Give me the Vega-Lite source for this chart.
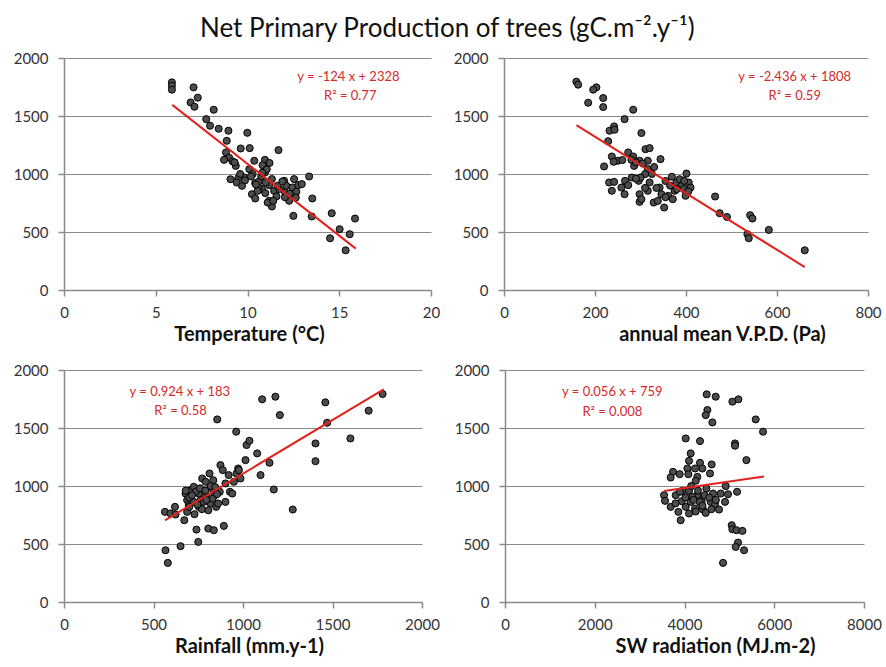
{
  "$schema": "https://vega.github.io/schema/vega-lite/v6.json",
  "background": "white",
  "padding": {"left": 13, "top": 16, "right": 0, "bottom": 5},
  "title": {"text": "Net Primary Production of trees (gC.m⁻².y⁻¹)", "font": "Lato", "fontSize": 26, "fontWeight": "normal", "color": "#111", "anchor": "middle", "offset": 9},
  "config": {
    "view": {"stroke": null},
    "axis": {"labelFont": "Lato", "labelFontSize": 15, "labelColor": "#333", "domainColor": "#8a8a8a", "tickColor": "#8a8a8a", "tickSize": 6, "domainWidth": 1.5, "tickWidth": 1.5, "titleFont": "Lato", "titleFontSize": 20, "titleFontWeight": "bold", "titleColor": "#111", "gridColor": "#8a8a8a", "gridWidth": 1.2, "labelPadding": 9, "format": "d", "labelFlush": false},
    "axisX": {"grid": false, "titlePadding": 4},
    "axisY": {"grid": true, "labelPadding": 10},
    "circle": {"size": 50, "color": "#4d4d4d", "stroke": "#000", "strokeWidth": 1, "opacity": 1},
    "line": {"color": "#e3211c", "strokeWidth": 2},
    "text": {"color": "#d42a2a", "font": "Lato", "fontSize": 13}
  },
  "datasets": {
    "p1": [
      {"x":5.88,"y":1790},{"x":5.88,"y":1761},{"x":5.88,"y":1727},{"x":7.06,"y":1747},{"x":7.29,"y":1658},{"x":6.9,"y":1617},{"x":7.11,"y":1580},{"x":8.16,"y":1554},{"x":7.75,"y":1473},{"x":7.96,"y":1416},{"x":8.43,"y":1390},{"x":8.96,"y":1373},{"x":9.99,"y":1355},{"x":8.87,"y":1286},{"x":11.69,"y":1206},{"x":9.63,"y":1220},{"x":10.12,"y":1223},{"x":8.83,"y":1186},{"x":9.0,"y":1140},{"x":8.72,"y":1122},{"x":9.19,"y":1108},{"x":9.36,"y":1070},{"x":10.37,"y":1114},{"x":10.95,"y":1122},{"x":11.0,"y":1056},{"x":10.82,"y":1076},{"x":10.1,"y":1042},{"x":10.28,"y":999},{"x":10.95,"y":1013},{"x":9.07,"y":955},{"x":9.5,"y":965},{"x":9.83,"y":970},{"x":9.41,"y":927},{"x":9.7,"y":898},{"x":10.19,"y":979},{"x":10.42,"y":921},{"x":10.6,"y":933},{"x":10.24,"y":826},{"x":10.42,"y":789},{"x":10.79,"y":870},{"x":10.97,"y":835},{"x":11.18,"y":904},{"x":11.33,"y":956},{"x":11.45,"y":855},{"x":11.18,"y":769},{"x":11.33,"y":720},{"x":11.58,"y":807},{"x":11.73,"y":870},{"x":12.0,"y":941},{"x":12.12,"y":898},{"x":12.05,"y":841},{"x":12.27,"y":769},{"x":12.54,"y":956},{"x":12.45,"y":884},{"x":12.77,"y":904},{"x":12.66,"y":846},{"x":12.96,"y":913},{"x":13.36,"y":979},{"x":12.5,"y":639},{"x":13.53,"y":789},{"x":13.5,"y":634},{"x":14.59,"y":662},{"x":14.5,"y":446},{"x":15.02,"y":524},{"x":15.57,"y":481},{"x":15.35,"y":342},{"x":15.86,"y":616},{"x":10.6,"y":883},{"x":11.1,"y":754},{"x":11.4,"y":768},{"x":11.64,"y":898},{"x":12.04,"y":800},{"x":12.63,"y":797},{"x":10.55,"y":855},{"x":10.75,"y":979},{"x":11.0,"y":927},{"x":9.86,"y":945},{"x":10.46,"y":910},{"x":9.6,"y":1000},{"x":11.2,"y":1095},{"x":11.05,"y":1040},{"x":9.3,"y":1100},{"x":11.9,"y":935},{"x":12.3,"y":830},{"x":10.8,"y":1010}
    ],
    "l1": [{"x":5.9,"y":1596},{"x":15.9,"y":357}],
    "p2": [
      {"x":159,"y":1796},{"x":163,"y":1770},{"x":203,"y":1747},{"x":196,"y":1727},{"x":185,"y":1614},{"x":218,"y":1655},{"x":218,"y":1577},{"x":284,"y":1554},{"x":265,"y":1473},{"x":302,"y":1353},{"x":232,"y":1373},{"x":242,"y":1410},{"x":243,"y":1381},{"x":229,"y":1283},{"x":311,"y":1214},{"x":320,"y":1223},{"x":273,"y":1186},{"x":284,"y":1151},{"x":237,"y":1151},{"x":250,"y":1114},{"x":241,"y":1105},{"x":280,"y":1122},{"x":298,"y":1114},{"x":316,"y":1114},{"x":344,"y":1128},{"x":220,"y":1065},{"x":286,"y":1070},{"x":316,"y":1042},{"x":310,"y":999},{"x":231,"y":927},{"x":242,"y":932},{"x":237,"y":855},{"x":258,"y":883},{"x":266,"y":941},{"x":273,"y":904},{"x":281,"y":970},{"x":265,"y":826},{"x":296,"y":941},{"x":300,"y":970},{"x":298,"y":826},{"x":298,"y":760},{"x":302,"y":783},{"x":316,"y":855},{"x":320,"y":927},{"x":329,"y":754},{"x":338,"y":768},{"x":342,"y":883},{"x":346,"y":826},{"x":352,"y":711},{"x":361,"y":812},{"x":369,"y":976},{"x":371,"y":783},{"x":375,"y":855},{"x":379,"y":927},{"x":390,"y":898},{"x":386,"y":955},{"x":401,"y":1004},{"x":399,"y":812},{"x":406,"y":927},{"x":410,"y":883},{"x":396,"y":941},{"x":464,"y":806},{"x":474,"y":662},{"x":490,"y":630},{"x":541,"y":645},{"x":546,"y":616},{"x":535,"y":481},{"x":538,"y":446},{"x":582,"y":518},{"x":661,"y":342},{"x":325,"y":1000},{"x":335,"y":880},{"x":355,"y":800},{"x":365,"y":900},{"x":310,"y":880},{"x":290,"y":960},{"x":330,"y":1060},{"x":395,"y":870},{"x":405,"y":850},{"x":380,"y":870},{"x":290,"y":1100},{"x":305,"y":1090},{"x":260,"y":1120},{"x":355,"y":940}
    ],
    "l2": [{"x":159,"y":1421},{"x":661,"y":198}],
    "p3": [
      {"x":564,"y":777},{"x":567,"y":446},{"x":580,"y":337},{"x":595,"y":763},{"x":620,"y":820},{"x":623,"y":754},{"x":651,"y":481},{"x":672,"y":705},{"x":679,"y":935},{"x":688,"y":878},{"x":697,"y":835},{"x":707,"y":964},{"x":725,"y":993},{"x":729,"y":757},{"x":740,"y":624},{"x":750,"y":518},{"x":753,"y":820},{"x":763,"y":878},{"x":772,"y":1065},{"x":776,"y":935},{"x":791,"y":1036},{"x":800,"y":906},{"x":806,"y":791},{"x":806,"y":633},{"x":813,"y":1108},{"x":819,"y":849},{"x":828,"y":978},{"x":834,"y":1050},{"x":837,"y":619},{"x":843,"y":921},{"x":850,"y":820},{"x":856,"y":1574},{"x":861,"y":849},{"x":874,"y":1180},{"x":887,"y":1137},{"x":893,"y":656},{"x":902,"y":863},{"x":927,"y":950},{"x":940,"y":935},{"x":962,"y":1468},{"x":964,"y":1108},{"x":973,"y":1151},{"x":986,"y":1065},{"x":977,"y":1137},{"x":1014,"y":1223},{"x":1020,"y":1353},{"x":1036,"y":1390},{"x":1079,"y":1281},{"x":1098,"y":1094},{"x":1107,"y":1747},{"x":1148,"y":1200},{"x":1172,"y":970},{"x":1181,"y":1770},{"x":1206,"y":1611},{"x":1278,"y":797},{"x":1405,"y":1367},{"x":1405,"y":1214},{"x":1460,"y":1721},{"x":1470,"y":1545},{"x":1600,"y":1410},{"x":1702,"y":1649},{"x":1780,"y":1793},{"x":902,"y":1022},{"x":920,"y":1094},{"x":949,"y":1036},{"x":781,"y":863},{"x":725,"y":863},{"x":688,"y":777},{"x":753,"y":935},{"x":700,"y":900},{"x":735,"y":950},{"x":760,"y":980},{"x":790,"y":960},{"x":820,"y":1000},{"x":845,"y":990},{"x":870,"y":950},{"x":700,"y":820},{"x":770,"y":800},{"x":830,"y":890},{"x":715,"y":920},{"x":795,"y":880},{"x":745,"y":840},{"x":680,"y":960},{"x":855,"y":930}
    ],
    "l3": [{"x":564,"y":704},{"x":1786,"y":1833}],
    "p4": [
      {"x":4495,"y":1790},{"x":4695,"y":1770},{"x":4510,"y":1655},{"x":4473,"y":1611},{"x":4621,"y":1548},{"x":5067,"y":1727},{"x":5201,"y":1747},{"x":5587,"y":1574},{"x":5750,"y":1468},{"x":4027,"y":1410},{"x":4346,"y":1387},{"x":5126,"y":1367},{"x":5126,"y":1347},{"x":5379,"y":1223},{"x":4138,"y":1281},{"x":4101,"y":1217},{"x":4346,"y":1200},{"x":4606,"y":1186},{"x":4064,"y":1151},{"x":4235,"y":1151},{"x":4398,"y":1151},{"x":3744,"y":1122},{"x":3893,"y":1102},{"x":4086,"y":1102},{"x":4287,"y":1079},{"x":3692,"y":1073},{"x":4569,"y":1108},{"x":4250,"y":1045},{"x":3544,"y":921},{"x":3566,"y":872},{"x":3692,"y":820},{"x":3863,"y":777},{"x":3915,"y":705},{"x":3804,"y":921},{"x":3938,"y":869},{"x":4027,"y":820},{"x":4101,"y":763},{"x":4138,"y":863},{"x":4235,"y":806},{"x":4287,"y":921},{"x":4383,"y":869},{"x":4413,"y":797},{"x":4473,"y":768},{"x":4487,"y":978},{"x":4584,"y":863},{"x":4636,"y":935},{"x":4680,"y":843},{"x":4769,"y":797},{"x":4807,"y":935},{"x":4903,"y":863},{"x":4918,"y":999},{"x":4970,"y":929},{"x":5171,"y":950},{"x":5052,"y":662},{"x":5067,"y":627},{"x":5156,"y":619},{"x":5290,"y":613},{"x":5193,"y":512},{"x":5141,"y":475},{"x":5327,"y":446},{"x":4859,"y":337},{"x":4101,"y":958},{"x":3952,"y":958},{"x":4175,"y":906},{"x":4339,"y":863},{"x":4200,"y":880},{"x":4450,"y":920},{"x":4300,"y":960},{"x":4550,"y":900},{"x":4150,"y":1000},{"x":3900,"y":950},{"x":4400,"y":830},{"x":4600,"y":800},{"x":4020,"y":900},{"x":4250,"y":780},{"x":4700,"y":880},{"x":3800,"y":850}
    ],
    "l4": [{"x":3544,"y":957},{"x":5772,"y":1082}]
  },
  "vconcat": [
    {
      "hconcat": [
        {
          "width": 367, "height": 232,
          "layer": [
            {"data": {"name": "p1"}, "mark": "circle",
             "encoding": {"x": {"field": "x", "type": "quantitative", "scale": {"domain": [0, 20]}, "axis": {"title": "Temperature (°C)", "values": [0, 5, 10, 15, 20], "titleX": 185}},
                          "y": {"field": "y", "type": "quantitative", "scale": {"domain": [0, 2000]}, "axis": {"title": null, "values": [0, 500, 1000, 1500, 2000]}}}},
            {"data": {"name": "l1"}, "mark": "line", "encoding": {"x": {"field": "x", "type": "quantitative"}, "y": {"field": "y", "type": "quantitative"}}},
            {"data": {"values": [{}]}, "mark": {"type": "text", "text": "y = -124 x + 2328"}, "encoding": {"x": {"datum": 15.5}, "y": {"datum": 1835}}},
            {"data": {"values": [{}]}, "mark": {"type": "text", "text": "R² = 0.77"}, "encoding": {"x": {"datum": 15.6}, "y": {"datum": 1670}}}
          ]
        },
        {
          "width": 364, "height": 232,
          "layer": [
            {"data": {"name": "p2"}, "mark": "circle",
             "encoding": {"x": {"field": "x", "type": "quantitative", "scale": {"domain": [0, 800]}, "axis": {"title": "annual mean V.P.D. (Pa)", "values": [0, 200, 400, 600, 800], "titleX": 218}},
                          "y": {"field": "y", "type": "quantitative", "scale": {"domain": [0, 2000]}, "axis": {"title": null, "values": [0, 500, 1000, 1500, 2000]}}}},
            {"data": {"name": "l2"}, "mark": "line", "encoding": {"x": {"field": "x", "type": "quantitative"}, "y": {"field": "y", "type": "quantitative"}}},
            {"data": {"values": [{}]}, "mark": {"type": "text", "text": "y = -2.436 x + 1808"}, "encoding": {"x": {"datum": 639}, "y": {"datum": 1835}}},
            {"data": {"values": [{}]}, "mark": {"type": "text", "text": "R² = 0.59"}, "encoding": {"x": {"datum": 639}, "y": {"datum": 1670}}}
          ]
        }
      ],
      "spacing": 73,
      "bounds": "flush"
    },
    {
      "hconcat": [
        {
          "width": 358, "height": 232,
          "layer": [
            {"data": {"name": "p3"}, "mark": "circle",
             "encoding": {"x": {"field": "x", "type": "quantitative", "scale": {"domain": [0, 2000]}, "axis": {"title": "Rainfall (mm.y-1)", "values": [0, 500, 1000, 1500, 2000], "titleX": 185}},
                          "y": {"field": "y", "type": "quantitative", "scale": {"domain": [0, 2000]}, "axis": {"title": null, "values": [0, 500, 1000, 1500, 2000]}}}},
            {"data": {"name": "l3"}, "mark": "line", "encoding": {"x": {"field": "x", "type": "quantitative"}, "y": {"field": "y", "type": "quantitative"}}},
            {"data": {"values": [{}]}, "mark": {"type": "text", "text": "y = 0.924 x + 183"}, "encoding": {"x": {"datum": 647}, "y": {"datum": 1813}}},
            {"data": {"values": [{}]}, "mark": {"type": "text", "text": "R² = 0.58"}, "encoding": {"x": {"datum": 651}, "y": {"datum": 1650}}}
          ]
        },
        {
          "width": 359, "height": 232,
          "layer": [
            {"data": {"name": "p4"}, "mark": "circle",
             "encoding": {"x": {"field": "x", "type": "quantitative", "scale": {"domain": [0, 8000]}, "axis": {"title": "SW radiation (MJ.m-2)", "values": [0, 2000, 4000, 6000, 8000], "titleX": 210}},
                          "y": {"field": "y", "type": "quantitative", "scale": {"domain": [0, 2000]}, "axis": {"title": null, "values": [0, 500, 1000, 1500, 2000]}}}},
            {"data": {"name": "l4"}, "mark": "line", "encoding": {"x": {"field": "x", "type": "quantitative"}, "y": {"field": "y", "type": "quantitative"}}},
            {"data": {"values": [{}]}, "mark": {"type": "text", "text": "y = 0.056 x + 759"}, "encoding": {"x": {"datum": 2392}, "y": {"datum": 1813}}},
            {"data": {"values": [{}]}, "mark": {"type": "text", "text": "R² = 0.008"}, "encoding": {"x": {"datum": 2392}, "y": {"datum": 1640}}}
          ]
        }
      ],
      "spacing": 83,
      "bounds": "flush"
    }
  ],
  "spacing": 19
}
